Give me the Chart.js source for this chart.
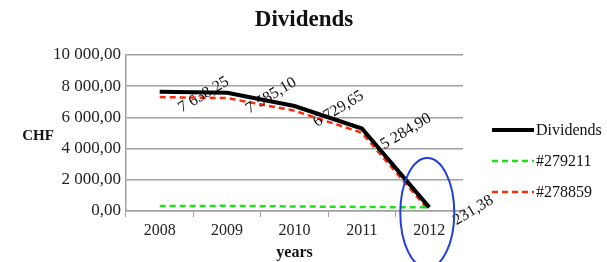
<!DOCTYPE html>
<html>
<head>
<meta charset="utf-8">
<script src="https://cdn.jsdelivr.net/npm/chart.js@4"></script>
<style>
  html, body { margin: 0; padding: 0; background: #fff; }
  #wrap { width: 607px; height: 262px; }
</style>
</head>
<body>
<div id="wrap"><canvas id="chart"></canvas></div>
<script>
const years = ['2008', '2009', '2010', '2011', '2012']
const dividends = [7638.25, 7585.10, 6729.65, 5284.90, 231.38]
const policy279211 = [320, 330, 290, 260, 231]
const policy278859 = [7300, 7240, 6430, 5010, 0]
const yTicks = [0, 2000, 4000, 6000, 8000, 10000]

const serif = "'Liberation Serif', 'DejaVu Serif', serif"

// 7638.25 -> "7 638,25"
const fmt = (v) => {
	const parts = v.toFixed(2).split('.')
	return parts[0].replace(/\B(?=(\d{3})+(?!\d))/g, ' ') + ',' + parts[1]
}

const extras = {
	id: 'extras',
	afterDatasetsDraw(chart) {
		const ctx = chart.ctx
		const meta = chart.getDatasetMeta(0)
		const yScale = chart.scales.y

		// title, centred a bit right of the plot like the original
		ctx.save()
		ctx.font = 'bold 23px ' + serif
		ctx.fillStyle = '#111'
		ctx.textAlign = 'center'
		ctx.textBaseline = 'middle'
		ctx.fillText('Dividends', 304, 20)
		ctx.restore()

		// rotated value labels for the Dividends line
		ctx.save()
		ctx.font = '16px ' + serif
		ctx.fillStyle = '#111'
		ctx.textAlign = 'center'
		ctx.textBaseline = 'middle'
		meta.data.forEach((pt, i) => {
			ctx.save()
			ctx.translate(pt.x + 44, pt.y + 3)
			ctx.rotate(-31 * Math.PI / 180)
			ctx.fillText(fmt(dividends[i]), 0, 0)
			ctx.restore()
		})
		ctx.restore()

		// blue ellipse around 2012
		const last = meta.data[meta.data.length - 1]
		ctx.save()
		ctx.strokeStyle = '#1f3fd8'
		ctx.lineWidth = 2
		ctx.beginPath()
		ctx.ellipse(last.x - 2, yScale.getPixelForValue(0) + 2, 27, 55, 0, 0, Math.PI * 2)
		ctx.stroke()
		ctx.restore()

		// CHF label
		ctx.save()
		ctx.font = 'bold 15px ' + serif
		ctx.fillStyle = '#111'
		ctx.textAlign = 'center'
		ctx.textBaseline = 'middle'
		ctx.fillText('CHF', 38, 136)
		ctx.restore()

		// legend
		ctx.save()
		ctx.font = '16px ' + serif
		ctx.textBaseline = 'middle'
		chart.data.datasets.forEach((ds, i) => {
			const y = 130 + i * 31
			ctx.strokeStyle = ds.borderColor
			ctx.lineWidth = ds.borderWidth
			ctx.setLineDash(ds.borderDash || [])
			ctx.beginPath()
			ctx.moveTo(492, y)
			ctx.lineTo(534, y)
			ctx.stroke()
			ctx.setLineDash([])
			ctx.fillStyle = '#111'
			ctx.fillText(ds.label, 536, y + 1)
		})
		ctx.restore()
	},
}

new Chart(document.getElementById('chart'), {
	type: 'line',
	data: {
		labels: years,
		datasets: [
			{
				label: 'Dividends',
				data: dividends,
				borderColor: '#000',
				borderWidth: 4,
				pointRadius: 0,
				tension: 0,
			},
			{
				label: '#279211',
				data: policy279211,
				borderColor: '#22e01a',
				borderWidth: 2.5,
				borderDash: [6, 4],
				pointRadius: 0,
			},
			{
				label: '#278859',
				data: policy278859,
				borderColor: '#ff2a0a',
				borderWidth: 2.5,
				borderDash: [6, 4],
				pointRadius: 0,
			},
		],
	},
	options: {
		responsive: true,
		maintainAspectRatio: false,
		animation: false,
		layout: { padding: { right: 144, left: 0, bottom: 0, top: 55 } },
		plugins: {
			legend: { display: false },
			tooltip: { enabled: false },
			title: { display: false },
		},
		scales: {
			x: {
				offset: true,
				grid: {
					drawOnChartArea: false,
					drawTicks: true,
					tickLength: 6,
					color: '#a0a0a0',
					offset: true,
				},
				border: { color: '#a0a0a0', width: 1.5 },
				ticks: {
					color: '#222',
					font: { family: serif, size: 16 },
					padding: 4,
				},
				title: {
					display: true,
					text: 'years',
					color: '#111',
					font: { family: serif, size: 16, weight: 'bold' },
					padding: { top: 5, bottom: 0 },
				},
				afterFit: (scale) => { scale.height = 51 },
			},
			y: {
				min: 0,
				max: 10000,
				afterBuildTicks: (scale) => { scale.ticks = yTicks.map((v) => ({ value: v })) },
				grid: { color: '#a0a0a0', lineWidth: 1.5, drawTicks: false },
				border: { color: '#a0a0a0', width: 1.5 },
				ticks: {
					color: '#222',
					font: { family: serif, size: 17 },
					padding: 5,
					callback: (v) => fmt(v),
				},
				afterFit: (scale) => { scale.width = 126 },
			},
		},
	},
	plugins: [extras],
})
</script>
</body>
</html>
